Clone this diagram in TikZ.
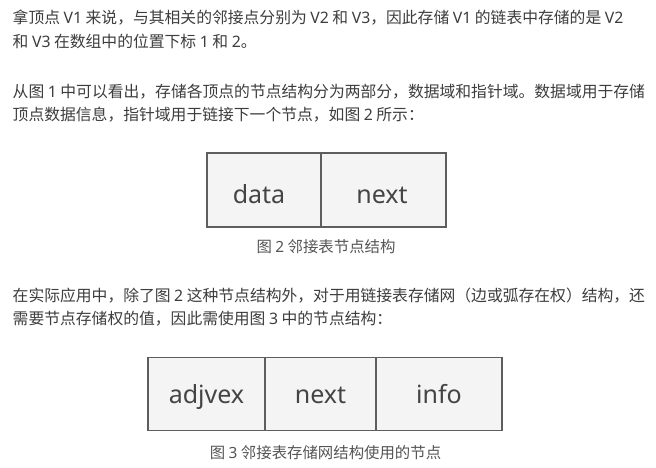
\documentclass[tikz,border=0pt]{standalone}
\usepackage{fontspec}
\setmainfont{Noto Sans CJK SC}
\newfontfamily\labelfont{Noto Sans}
\newcommand{\lat}[1]{{\labelfont #1}}
\definecolor{bodytext}{HTML}{3D3D3D}
\definecolor{captext}{HTML}{555555}
\definecolor{cellfill}{HTML}{F4F4F4}
\definecolor{cellline}{HTML}{5E5E5E}
\definecolor{celltext}{HTML}{444444}
\tikzset{
  para/.style={anchor=west, inner sep=0pt, text=bodytext, font=\fontsize{15.8}{20}\selectfont},
  figcap/.style={anchor=center, inner sep=0pt, text=captext, font=\fontsize{15.4}{18}\selectfont},
  cell/.style={draw=cellline, line width=1.6pt, fill=cellfill, text=celltext,
    font=\labelfont\fontsize{25}{30}\selectfont, inner sep=0pt, anchor=center}
}
\begin{document}
\begin{tikzpicture}[x=1pt,y=-1pt]
\useasboundingbox[fill=white] (0,0) rectangle (656,468);
\node[para] (l1) at (12.5,17.8) {拿顶点 \lat{V1} 来说，与其相关的邻接点分别为 \lat{V2} 和 \lat{V3}，因此存储 \lat{V1} 的链表中存储的是 \lat{V2}};
\node[para] (l2) at (12.5,41.3) {和 \lat{V3} 在数组中的位置下标 \lat{1} 和 \lat{2}。};
\node[para] (l3) at (12.5,91.5) {从图 \lat{1} 中可以看出，存储各顶点的节点结构分为两部分，数据域和指针域。数据域用于存储};
\node[para] (l4) at (12.5,115) {顶点数据信息，指针域用于链接下一个节点，如图 \lat{2} 所示：};
% figure 2
\node[cell, minimum width=114pt, minimum height=74pt, text height=26pt, text depth=0pt] (data) at (264,190) {data\hspace*{10pt}};
\node[cell, minimum width=125pt, minimum height=74pt, text height=26pt, text depth=0pt] (next1) at (383.5,190) {next\hspace*{3pt}};
\node[figcap] (c2) at (326,247) {图 \lat{2} 邻接表节点结构};
\node[para] (l5) at (12.5,296) {在实际应用中，除了图 \lat{2} 这种节点结构外，对于用链接表存储网（边或弧存在权）结构，还};
\node[para] (l6) at (12.5,319) {需要节点存储权的值，因此需使用图 \lat{3} 中的节点结构：};
% figure 3
\node[cell, minimum width=117pt, minimum height=73pt, text height=18pt, text depth=0pt] (adj) at (206.5,394) {adjvex};
\node[cell, minimum width=111pt, minimum height=73pt, text height=18pt, text depth=0pt] (next2) at (320.5,394) {next};
\node[cell, minimum width=126pt, minimum height=73pt, text height=18pt, text depth=0pt] (info) at (439,394) {info};
\node[figcap] (c3) at (325.5,453) {图 \lat{3} 邻接表存储网结构使用的节点};
\end{tikzpicture}
\end{document}
